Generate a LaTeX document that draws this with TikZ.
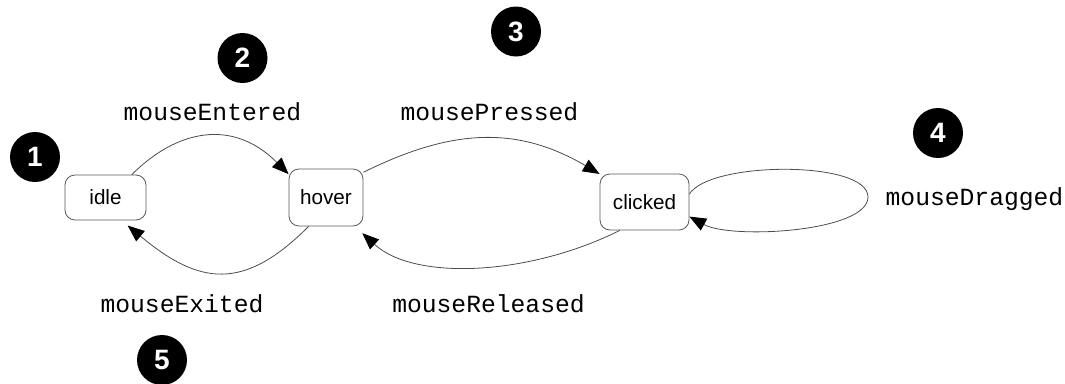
\documentclass[tikz,border=0pt]{standalone}
\usepackage{fontspec}
\setmainfont{Liberation Sans}
\newfontfamily\monofont{Liberation Mono}
\usetikzlibrary{arrows.meta}
\begin{document}
\begin{tikzpicture}[x=0.75pt,y=-0.75pt,
  state/.style={draw=black!65, line width=0.6pt, rounded corners=7.5pt,
    font=\fontsize{15.5}{17}\selectfont, inner sep=0pt},
  badge/.style={circle, fill=black, text=white, minimum size=37.5pt, inner sep=0pt,
    font=\fontsize{21}{23}\selectfont\bfseries},
  evt/.style={font=\monofont\fontsize{18.5}{20}\selectfont, anchor=base, inner sep=0pt},
  trans/.style={draw=black!70, line width=0.6pt, -{Triangle[length=12.5pt,width=10pt,color=black]}}
]
\useasboundingbox (0,0) rectangle (1065,383);

\node[state, minimum width=60.75pt, minimum height=33.75pt] (idle) at (105.5,197.5) {idle};
\node[state, minimum width=55.5pt, minimum height=42.75pt] (hover) at (326,197.5) {hover};
\node[state, minimum width=66.75pt, minimum height=42pt] (clicked) at (644.5,202) {clicked};

\node[badge] (b1) at (35,157) {1};
\node[badge] (b2) at (242.5,58) {2};
\node[badge] (b3) at (516,31.5) {3};
\node[badge] (b4) at (938,133) {4};
\node[badge] (b5) at (162,360) {5};

\node[evt] (lEntered) at (212.5,120) {mouseEntered};
\node[evt] (lPressed) at (489.5,120) {mousePressed};
\node[evt] (lDragged) at (974.5,205) {mouseDragged};
\node[evt] (lExited) at (182,312) {mouseExited};
\node[evt] (lReleased) at (488.5,312) {mouseReleased};

\draw[trans] (idle.41) .. controls +(45,-45) and +(-56,-56) .. (hover.148);
\draw[trans, shorten >=6pt] (hover.-121) .. controls +(-65,65) and +(78,65) .. (idle.-55);
\draw[trans] (hover.34) .. controls +(85,-42) and +(-85,-50) .. (clicked.148);
\draw[trans, shorten >=7.5pt] (clicked.-131) .. controls +(-90,45) and +(60,55) .. (hover.-45);
\coordinate (loopR) at (868,197);
\draw[trans] (clicked.10) .. controls +(20,-33) and +(0,-37) .. (loopR)
  .. controls +(0,35) and +(42,23) .. (clicked.-18);
\end{tikzpicture}
\end{document}
